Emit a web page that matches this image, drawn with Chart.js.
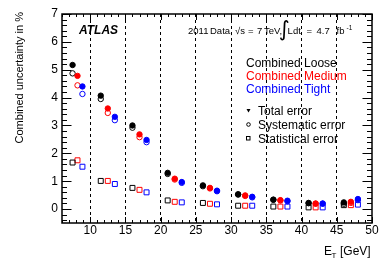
<!DOCTYPE html>
<html>
<head>
<meta charset="utf-8">
<script src="https://cdn.jsdelivr.net/npm/chart.js@4.4.1/dist/chart.umd.min.js"></script>
<style>
  html, body { margin: 0; padding: 0; background: #fff; }
  #wrap { width: 390px; height: 265px; }
</style>
</head>
<body>
<div id="wrap"><canvas id="c" width="390" height="265"></canvas></div>
<script>
'use strict';

// E_T positions of the points (GeV), one list per working point
const ET_LOOSE  = [7.5, 11.5, 16, 21, 26, 31, 36, 41, 46];
const ET_MEDIUM = [8.2, 12.5, 17, 22, 27, 32, 37, 42, 47];
const ET_TIGHT  = [8.9, 13.5, 18, 23, 28, 33, 38, 43, 48];

// combined uncertainty in %
const TOTAL_LOOSE  = [5.17, 4.07, 3.00, 1.30, 0.85, 0.53, 0.34, 0.22, 0.24];
const TOTAL_MEDIUM = [4.78, 3.61, 2.68, 1.09, 0.76, 0.49, 0.32, 0.20, 0.26];
const TOTAL_TIGHT  = [4.40, 3.31, 2.48, 0.97, 0.66, 0.44, 0.30, 0.20, 0.36];

const SYST_LOOSE  = [4.87, 3.95, 2.92, 1.26, 0.82, 0.52, 0.33, 0.21, 0.19];
const SYST_MEDIUM = [4.44, 3.45, 2.58, 1.06, 0.74, 0.47, 0.31, 0.19, 0.22];
const SYST_TIGHT  = [4.13, 3.19, 2.40, 0.94, 0.64, 0.42, 0.28, 0.19, 0.32];

const STAT_LOOSE  = [1.67, 1.01, 0.76, 0.31, 0.22, 0.12, 0.09, 0.06, 0.14];
const STAT_MEDIUM = [1.75, 1.01, 0.69, 0.26, 0.19, 0.12, 0.09, 0.06, 0.14];
const STAT_TIGHT  = [1.52, 0.90, 0.60, 0.24, 0.17, 0.12, 0.09, 0.06, 0.16];

const X_TICKS = [10, 15, 20, 25, 30, 35, 40, 45, 50];
const Y_TICKS = [0, 1, 2, 3, 4, 5, 6, 7];

const FONT = '"Liberation Sans", Arial, Helvetica, sans-serif';
const COLORS = { loose: '#000000', medium: '#ff0000', tight: '#0000ff' };

const pts = (xs, ys) => xs.map((x, i) => ({ x, y: ys[i] }));

function filled(data, color) {
  return { data, pointStyle: 'circle', pointRadius: 2.7, backgroundColor: color, borderColor: color, borderWidth: 1 };
}
function openCircle(data, color) {
  return { data, pointStyle: 'circle', pointRadius: 2.7, backgroundColor: 'rgba(0,0,0,0)', borderColor: color, borderWidth: 1 };
}
function openSquare(data, color) {
  return { data, pointStyle: 'rect', pointRadius: 3.5, backgroundColor: 'rgba(0,0,0,0)', borderColor: color, borderWidth: 1 };
}

// first dataset ends up on top, so totals go first
const datasets = [
  filled(pts(ET_LOOSE, TOTAL_LOOSE), COLORS.loose),
  filled(pts(ET_MEDIUM, TOTAL_MEDIUM), COLORS.medium),
  filled(pts(ET_TIGHT, TOTAL_TIGHT), COLORS.tight),
  openCircle(pts(ET_LOOSE, SYST_LOOSE), COLORS.loose),
  openCircle(pts(ET_MEDIUM, SYST_MEDIUM), COLORS.medium),
  openCircle(pts(ET_TIGHT, SYST_TIGHT), COLORS.tight),
  openSquare(pts(ET_LOOSE, STAT_LOOSE), COLORS.loose),
  openSquare(pts(ET_MEDIUM, STAT_MEDIUM), COLORS.medium),
  openSquare(pts(ET_TIGHT, STAT_TIGHT), COLORS.tight),
];

// ROOT-style frame, inward ticks, titles and legend
const rootFrame = {
  id: 'rootFrame',
  afterDraw(chart) {
    const { ctx, chartArea: { left, top, right, bottom }, scales: { x, y } } = chart;
    ctx.save();
    ctx.strokeStyle = '#000';

    // ticks
    ctx.lineWidth = 1;
    ctx.beginPath();
    for (let v = 6; v <= 50; v += 1) {
      const px = Math.round(x.getPixelForValue(v)) + 0.5;
      const len = v % 5 === 0 ? 6 : 3;
      ctx.moveTo(px, bottom); ctx.lineTo(px, bottom - len);
      ctx.moveTo(px, top); ctx.lineTo(px, top + len);
    }
    for (let k = -2; k <= 35; k++) {
      const py = Math.round(y.getPixelForValue(k * 0.2)) + 0.5;
      const len = k % 5 === 0 ? 9.5 : 5;
      ctx.moveTo(left, py); ctx.lineTo(left + len, py);
      ctx.moveTo(right, py); ctx.lineTo(right - len, py);
    }
    ctx.stroke();

    // frame
    ctx.lineWidth = 1.5;
    ctx.strokeRect(left, top, right - left, bottom - top);

    ctx.fillStyle = '#000';
    ctx.textAlign = 'left';
    ctx.textBaseline = 'alphabetic';

    // ATLAS label and data description
    ctx.font = 'italic bold 12px ' + FONT;
    ctx.fillText('ATLAS', 79, 34);
    ctx.font = '9.5px ' + FONT;
    ctx.fillText('2011', 188, 34);
    ctx.fillText('Data,', 210, 34);
    ctx.fillText('\u221As', 235, 34);
    ctx.fillText('=', 248, 34);
    ctx.fillText('7', 257, 34);
    ctx.fillText('TeV,', 264, 34);
    ctx.font = '21px "DejaVu Sans", sans-serif';
    ctx.fillText('\u222B', 279, 36);
    ctx.font = '9.5px ' + FONT;
    ctx.fillText('L', 287.5, 34);
    ctx.fillText('dt', 293, 34);
    ctx.fillText('=', 306.5, 34);
    ctx.fillText('4.7', 316.5, 34);
    ctx.fillText('fb', 336.5, 34);
    ctx.font = '6.5px ' + FONT;
    ctx.fillText('-1', 346.5, 29.5);

    // legend
    ctx.font = '12px ' + FONT;
    ctx.fillStyle = COLORS.loose;  ctx.fillText('Combined Loose', 246, 66.5);
    ctx.fillStyle = COLORS.medium; ctx.fillText('Combined Medium', 246, 79.5);
    ctx.fillStyle = COLORS.tight;  ctx.fillText('Combined Tight', 246, 92.5);
    ctx.fillStyle = '#000';
    ctx.fillText('Total error', 258, 114.5);
    ctx.fillText('Systematic error', 258, 128.5);
    ctx.fillText('Statistical error', 258, 142.5);

    ctx.beginPath();
    ctx.moveTo(246.5, 109); ctx.lineTo(250.5, 109); ctx.lineTo(248.5, 112.5); ctx.closePath();
    ctx.fill();
    ctx.lineWidth = 1;
    ctx.beginPath();
    ctx.arc(248.5, 124.5, 1.8, 0, Math.PI * 2);
    ctx.stroke();
    ctx.strokeRect(246.5, 136.5, 3.5, 3.5);

    // axis titles
    ctx.font = '12px ' + FONT;
    ctx.fillText('E', 324, 255);
    ctx.font = '8px ' + FONT;
    ctx.fillText('T', 331.5, 258);
    ctx.font = '12px ' + FONT;
    ctx.fillText('[GeV]', 340, 255);

    ctx.font = '11px ' + FONT;
    ctx.translate(23, 12);
    ctx.rotate(-Math.PI / 2);
    ctx.textAlign = 'right';
    ctx.fillText('Combined uncertainty in %', 0, 0);
    ctx.restore();
  },
};

new Chart(document.getElementById('c'), {
  type: 'scatter',
  data: { datasets },
  plugins: [rootFrame],
  options: {
    responsive: false,
    animation: false,
    events: [],
    layout: { padding: { left: 0, right: 18, top: 14, bottom: 0 } },
    plugins: { legend: { display: false }, tooltip: { enabled: false } },
    scales: {
      x: {
        type: 'linear',
        min: 6,
        max: 50,
        afterFit(s) { s.height = 42; },
        afterBuildTicks(s) { s.ticks = X_TICKS.map(v => ({ value: v })); },
        ticks: { color: '#000', font: { family: FONT, size: 12 }, padding: 0, maxRotation: 0, autoSkip: false },
        grid: {
          drawTicks: false,
          color: c => (c.tick && c.tick.value < 50 ? '#000' : 'rgba(0,0,0,0)'),
          lineWidth: 1,
        },
        border: { display: false, dash: [3, 3] },
      },
      y: {
        type: 'linear',
        min: -0.5,
        max: 7,
        afterFit(s) { s.width = 62; },
        afterBuildTicks(s) { s.ticks = Y_TICKS.map(v => ({ value: v })); },
        ticks: { color: '#000', font: { family: FONT, size: 12 }, padding: 4 },
        grid: { display: false, drawTicks: false },
        border: { display: false },
      },
    },
  },
});
</script>
</body>
</html>
